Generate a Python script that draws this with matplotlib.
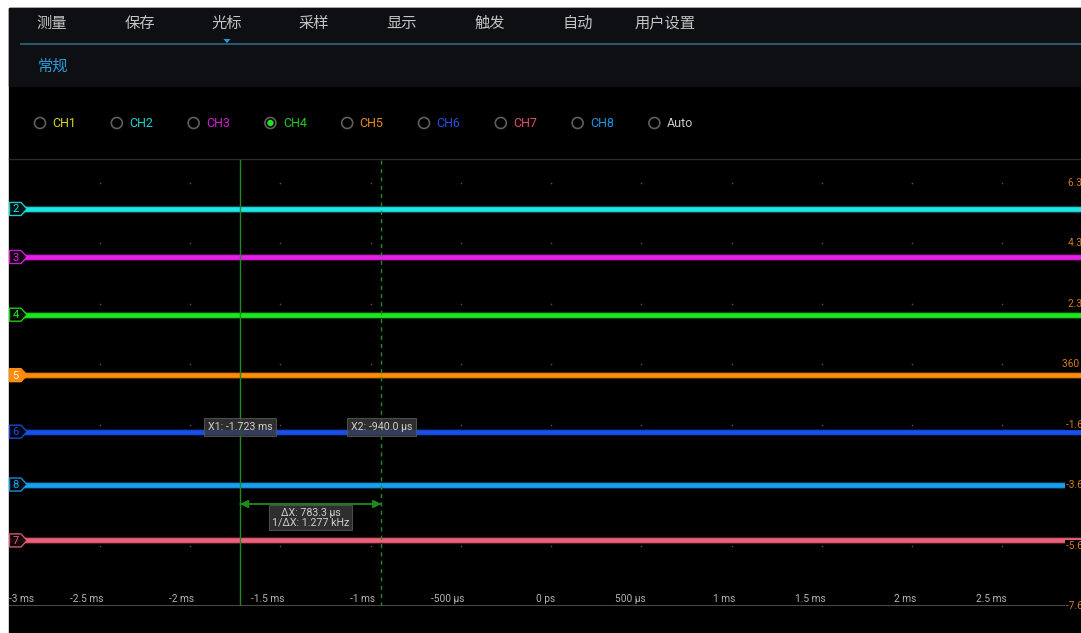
import matplotlib
matplotlib.use("Agg")
import matplotlib.pyplot as plt
from matplotlib.patches import Rectangle, Polygon, Circle, FancyArrowPatch
import numpy as np

plt.rcParams['font.family'] = ['Roboto', 'Noto Sans CJK SC', 'DejaVu Sans']

W, H = 1081, 633

# ---- data ----
menu_items = ["测量", "保存", "光标", "采样", "显示", "触发", "自动", "用户设置"]
active_menu = "光标"
sub_menu = "常规"

radio_labels = ["CH1", "CH2", "CH3", "CH4", "CH5", "CH6", "CH7", "CH8", "Auto"]
radio_colors = ["#d8d81e", "#1ed2d2", "#d21ed2", "#22cc22", "#e88a1e",
                "#2a4fe0", "#e0506e", "#1a96e6", "#c8c8c8"]
radio_selected = "CH4"

trace_names = ["2", "3", "4", "5", "6", "8", "7"]
trace_levels = [5.50, 3.91, 2.00, 0.00, -1.87, -3.62, -5.47]   # V
trace_colors = ["#1ee6e6", "#e61ee6", "#1ee61e", "#ff8c0a",
                "#1a4fe8", "#18a0f0", "#ec6078"]
filled_tag = "5"

time_ticks = [-3, -2.5, -2, -1.5, -1, -0.5, 0, 0.5, 1, 1.5, 2, 2.5]   # ms
time_labels = ["-3 ms", "-2.5 ms", "-2 ms", "-1.5 ms", "-1 ms", "-500 µs",
               "0 ps", "500 µs", "1 ms", "1.5 ms", "2 ms", "2.5 ms"]
volt_ticks = [6.36, 4.36, 2.36, 0.36, -1.64, -3.64, -5.64, -7.64]
volt_labels = ["6.36 V", "4.36 V", "2.36 V", "360 mV", "-1.64 V",
               "-3.64 V", "-5.64 V", "-7.64 V"]

x1_ms = -1.723
x2_ms = -0.940
x1_text = "X1: -1.723 ms"
x2_text = "X2: -940.0 µs"
dx_text = "ΔX: 783.3 µs\n1/ΔX: 1.277 kHz"

# ---- figure ----
fig = plt.figure(figsize=(W / 100, H / 100), dpi=100, facecolor="white")


def pixel_axes(z):
    a = fig.add_axes([0, 0, 1, 1], zorder=z)
    a.set_xlim(0, W)
    a.set_ylim(H, 0)
    a.axis("off")
    a.patch.set_visible(False)
    return a


bg = pixel_axes(0)
bg.add_patch(Rectangle((9, 8), W - 9, H - 8, color="black"))
bg.add_patch(Rectangle((9, 8), W - 9, 78, color="#0e0f12"))
bg.plot([21, W], [43.5, 43.5], color="#2b5872", lw=1.4)
bg.plot([9, W], [158.5, 158.5], color="#2a2a2a", lw=1.0)

# main scope area
top, bot = 160, 606
ax = fig.add_axes([9 / W, (H - bot) / H, (W - 9) / W, (bot - top) / H], zorder=1)
ax.set_facecolor("none")
px_per_ms = 180.5
zero_px = 551
ax.set_xlim(-(zero_px - 9) / px_per_ms, (W - zero_px) / px_per_ms)
v_per_px = 2 / 60.5
ax.set_ylim(-7.64, 6.36 + (183 - top) * v_per_px)
for s in ax.spines.values():
    s.set_visible(False)
ax.set_xticks([])
ax.set_yticks([])

# grid dots
gx, gy = np.meshgrid(time_ticks[1:] + [3.0], volt_ticks[:-1])
ax.scatter(gx.ravel(), gy.ravel(), s=1.4, color="#505050", lw=0, zorder=1)

# traces (core plus a soft noisy fringe)
xl = ax.get_xlim()
for lvl, col in zip(trace_levels, trace_colors):
    ax.plot(xl, [lvl, lvl], color=col, lw=5.2, alpha=0.3, solid_capstyle="butt", zorder=2)
    ax.plot(xl, [lvl, lvl], color=col, lw=3.4, solid_capstyle="butt", zorder=3)

# cursors
cur_col = "#1f8a1f"
ax.axvline(x1_ms, color=cur_col, lw=1.0, zorder=4)
ax.axvline(x2_ms, color=cur_col, lw=1.0, ls=(0, (3, 3)), zorder=4)

ax.axhline(-7.64, color="#5a5a5a", lw=1.2, zorder=5)

# bottom time labels
for i, (t, lab) in enumerate(zip(time_ticks, time_labels)):
    if i == 0:
        ax.annotate(lab, (xl[0], -7.64), xytext=(0, 1.5), textcoords="offset points",
                    ha="left", va="bottom", fontsize=7.3, color="#b4b4b4", zorder=6)
    else:
        ax.annotate(lab, (t, -7.64), xytext=(3, 1.5), textcoords="offset points",
                    ha="right", va="bottom", fontsize=7.3, color="#b4b4b4", zorder=6)

ui = pixel_axes(2)


def to_px(x, y):
    dx, dy = ax.transData.transform((x, y))
    return dx, H - dy


# right voltage labels (cut off by the screen edge, as on the instrument)
for v, lab in zip(volt_ticks, volt_labels):
    _, py = to_px(0, v)
    ui.text(1097, py, lab, ha="right", va="center", fontsize=7.3, color="#d27a1e",
            bbox=dict(boxstyle="square,pad=0.05", fc="black", ec="none"))

# channel tags
for name, lvl, col in zip(trace_names, trace_levels, trace_colors):
    _, py = to_px(0, lvl)
    verts = [(9.5, py - 6.5), (21, py - 6.5), (27, py), (21, py + 6.5), (9.5, py + 6.5)]
    if name == filled_tag:
        ui.add_patch(Polygon(verts, closed=True, fc=col, ec=col, lw=1))
        tc = "#f4f4f4"
    else:
        ui.add_patch(Polygon(verts, closed=True, fc="black", ec=col, lw=1, alpha=0.9))
        tc = col
    ui.text(15.5, py + 0.5, name, ha="center", va="center", fontsize=8, color=tc)

# cursor readouts
box_style = dict(boxstyle="square,pad=0.35", fc="#3a3a3a", ec="#5a5a5a", lw=0.8, alpha=0.8)
cx1, _ = to_px(x1_ms, 0)
cx2, _ = to_px(x2_ms, 0)
ui.text(cx1, 427, x1_text, ha="center", va="center", fontsize=7.7, color="#d0d0d0", bbox=box_style)
ui.text(cx2, 427, x2_text, ha="center", va="center", fontsize=7.7, color="#d0d0d0", bbox=box_style)
arrow_kw = dict(arrowstyle="-|>,head_length=5,head_width=2.5", color=cur_col, lw=1.0,
                shrinkA=0, shrinkB=0)
ui.add_patch(FancyArrowPatch((cx1, 504), (cx2, 504), **arrow_kw))
ui.add_patch(FancyArrowPatch((cx2, 504), (cx1, 504), **arrow_kw))
ui.text((cx1 + cx2) / 2, 517.5, dx_text, ha="center", va="center", fontsize=7.7,
        color="#d0d0d0", linespacing=1.0,
        bbox=dict(boxstyle="square,pad=0.25", fc="#3a3a3a", ec="#5a5a5a", lw=0.8, alpha=0.8))

# menu bar
menu_x = [52, 140, 227, 314, 402, 490, 578, 665]
for mx, item in zip(menu_x, menu_items):
    ui.text(mx, 24, item, ha="center", va="center", fontsize=11, color="#c4c4c4")
    if item == active_menu:
        ui.add_patch(Polygon([(mx - 3.5, 39), (mx + 3.5, 39), (mx, 43)], closed=True,
                             fc="#2a9ae0", ec="none"))
ui.text(38, 67, sub_menu, ha="left", va="center", fontsize=11, color="#2a9ad8")

# channel radio buttons
for i, (lab, col) in enumerate(zip(radio_labels, radio_colors)):
    rx = 40 + i * 76.8
    ui.add_patch(Circle((rx, 123), 5.5, fc="none", ec="#5e5e5e", lw=1.2))
    if lab == radio_selected:
        ui.add_patch(Circle((rx, 123), 3.2, fc="#22e022", ec="none"))
    ui.text(rx + 12.5, 123.5, lab, ha="left", va="center", fontsize=9, color=col)

fig.savefig("out.png", dpi=100, facecolor="white")
